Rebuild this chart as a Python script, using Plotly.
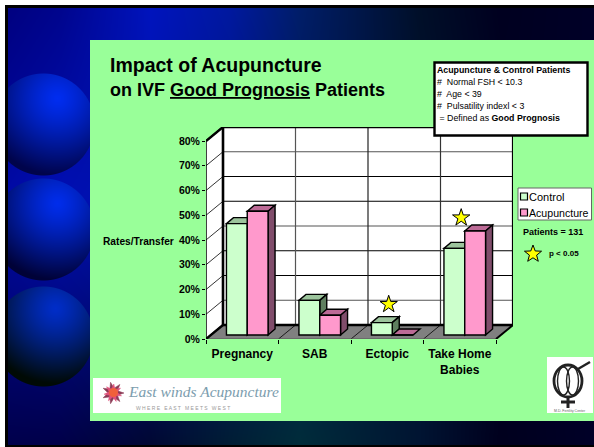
import base64, struct, zlib
import numpy as np
import plotly.graph_objects as go

# ---- data ----
categories = ["Pregnancy", "SAB", "Ectopic", "Take Home<br>Babies"]
control = [45, 14, 5, 35]
acupuncture = [50, 8, 0, 42]
star_x = [2.02, 3.02]
star_y = [14, 49]
y_ticks = [0, 10, 20, 30, 40, 50, 60, 70, 80]
y_labels = ["0%", "10%", "20%", "30%", "40%", "50%", "60%", "70%", "80%"]
info_lines = [
    "<b>Acupuncture & Control Patients</b>",
    "#  Normal FSH < 10.3",
    "#  Age < 39",
    "#  Pulsatility indexl < 3",
    " = Defined as <b>Good Prognosis</b>",
]

W, H = 594, 447
FONT = "Liberation Sans, Arial, sans-serif"
GREEN = "#99FF99"


def px(x):
    return x / W


def py(y):
    return 1 - y / H


# ---- slide background (decoration) ----
def make_background():
    xx, yy = np.meshgrid(np.arange(W), np.arange(H))
    xs = [0, 60, 150, 230, 300, 420, 500, 594]
    top = [(0, 0, 125), (0, 5, 140), (0, 20, 190), (0, 25, 160), (0, 30, 105), (0, 15, 40), (0, 0, 32), (0, 0, 40)]
    mid = [(0, 10, 165), (0, 15, 180), (0, 20, 170), (0, 20, 130), (0, 25, 90), (0, 20, 50), (0, 5, 35), (0, 0, 40)]
    bot = [(0, 0, 75), (0, 0, 72), (0, 8, 50), (0, 30, 52), (0, 45, 58), (0, 20, 50), (0, 0, 30), (0, 0, 40)]
    img = np.zeros((H, W, 3), float)
    for c in range(3):
        t = np.interp(xx, xs, [p[c] for p in top])
        m = np.interp(xx, xs, [p[c] for p in mid])
        b = np.interp(xx, xs, [p[c] for p in bot])
        k = yy / 200.0
        k2 = (yy - 200) / 247.0
        img[..., c] = np.where(yy < 200, t + (m - t) * k, m + (b - m) * k2)
    spheres = [
        (43, 124, 51, 57, 98, (0, 45, 240), (0, 4, 75)),
        (43, 229, 51, 57, 203, (0, 45, 235), (0, 2, 55)),
        (43, 336, 50, 55, 308, (0, 45, 200), (0, 10, 5)),
    ]
    for cx, cy, r, hx, hy, hi, lo in spheres:
        d = np.hypot(xx - cx, yy - cy)
        mask = np.clip(r + 0.5 - d, 0, 1)
        t = np.clip(np.hypot(xx - hx, yy - hy) / (1.5 * r), 0, 1) ** 1.25
        for c in range(3):
            col = hi[c] + (lo[c] - hi[c]) * t
            img[..., c] = img[..., c] * (1 - mask) + col * mask
    # slide frame
    img[:, :8] = 0
    img[:8, :] = 0
    img[445:, :] = 0
    img[:, :5] = 255
    img[:5, :] = 255
    arr = img.clip(0, 255).astype(np.uint8)
    raw = b"".join(b"\x00" + arr[i].tobytes() for i in range(H))

    def chunk(tag, data):
        c = struct.pack(">I", len(data)) + tag + data
        return c + struct.pack(">I", zlib.crc32(tag + data) & 0xFFFFFFFF)

    png = (b"\x89PNG\r\n\x1a\n" + chunk(b"IHDR", struct.pack(">IIBBBBB", W, H, 8, 2, 0, 0, 0))
           + chunk(b"IDAT", zlib.compress(raw, 9)) + chunk(b"IEND", b""))
    return "data:image/png;base64," + base64.b64encode(png).decode()


# ---- 3-D frame geometry in data units ----
CAT_PX = 72.5
VAL_PX = 2.475
DX = 17 / CAT_PX
DY = 14 / VAL_PX
BAR_W = 20.8 / CAT_PX
BAR_OFF = 5 / CAT_PX
BASE = 4 / VAL_PX
BDX = 7 / CAT_PX
BDY = 6 / VAL_PX
X0, X1 = -0.5, 3.5
TOP = 80

shapes = []


def poly(points, fill="rgba(0,0,0,0)", line="black", width=1.0, layer="below", ref=("x", "y")):
    path = "M" + "L".join(f"{a:.4f},{b:.4f}" for a, b in points) + "Z"
    shapes.append(dict(type="path", path=path, xref=ref[0], yref=ref[1], fillcolor=fill,
                       line=dict(color=line, width=width), layer=layer))


def seg(x0, y0, x1, y1, color="black", width=1.0):
    shapes.append(dict(type="line", x0=x0, y0=y0, x1=x1, y1=y1, xref="x", yref="y",
                       line=dict(color=color, width=width), layer="below"))


def rect_px(x0, y0, x1, y1, fill, line=None, width=0, layer="below"):
    shapes.append(dict(type="rect", xref="paper", yref="paper", x0=px(x0), x1=px(x1), y0=py(y1), y1=py(y0),
                       fillcolor=fill, line=dict(color=line or "rgba(0,0,0,0)", width=width), layer=layer))


def star_px(cx, cy, r, fill="#FFFF00"):
    pts = []
    for k in range(10):
        a = -np.pi / 2 + k * np.pi / 5
        rr = r if k % 2 == 0 else r * 0.42
        pts.append((px(cx + rr * np.cos(a)), py(cy + rr * np.sin(a))))
    poly(pts, fill=fill, width=1, layer="above", ref=("paper", "paper"))


# green panel
rect_px(90, 40, 594, 421, GREEN)

# walls and floor
poly([(X0, 0), (X0 + DX, DY), (X0 + DX, TOP + DY), (X0, TOP)], fill="white", width=1.5)
poly([(X0 + DX, DY), (X1 + DX, DY), (X1 + DX, TOP + DY), (X0 + DX, TOP + DY)], fill="white", width=0)
poly([(X0, 0), (X1, 0), (X1 + DX, DY), (X0 + DX, DY)], fill="#808080", width=0)

grid_colors = {10: "#555555", 20: "black", 30: "black", 40: "#555555", 50: "black", 60: "black", 70: "#555555"}
for v in y_ticks[1:-1]:
    seg(X0 + DX, v + DY, X1 + DX, v + DY, grid_colors[v], 1.2)
    seg(X0, v, X0 + DX, v + DY, "black", 0.8)
for k, col in zip([1, 2, 3], ["#555555", "#222222", "#333333"]):
    seg(X0 + k + DX, DY, X0 + k + DX, TOP + DY, col, 1.2)
    seg(X0 + k, 0, X0 + k + DX, DY, "black", 0.8)
seg(X0, 0, X1, 0, "#555555", 1.0)
seg(X0 + DX, DY, X1 + DX, DY, "black", 2.6)
seg(X0 + DX, DY, X0 + DX, TOP + DY, "black", 2.6)
seg(X0 + DX, TOP + DY, X1 + DX, TOP + DY, "black", 2.6)
seg(X1 + DX, DY, X1 + DX, TOP + DY, "black", 2.2)
seg(X1, 0, X1 + DX, DY, "black", 2.0)
seg(X0, 0, X0 + DX, DY, "black", 2.4)
seg(X0, TOP, X0 + DX, TOP + DY, "black", 2.4)

# depth faces of the bars, derived from the values
faces = [(control, -BAR_W / 2, "#9CC49C", "#5F7F5F"), (acupuncture, BAR_W / 2, "#BC6A96", "#804D6B")]
for i in range(len(categories)):
    for vals, shift, top_c, side_c in faces:
        left = i + BAR_OFF + shift - BAR_W / 2
        right = left + BAR_W
        t = BASE + vals[i]
        poly([(left, t), (right, t), (right + BDX, t + BDY), (left + BDX, t + BDY)], fill=top_c, width=1.4)
        if vals[i] > 0:
            poly([(right, BASE), (right + BDX, BASE + BDY), (right + BDX, t + BDY), (right, t)], fill=side_c, width=1.4)

xs_c = [i + BAR_OFF - BAR_W / 2 for i in range(len(categories))]
xs_a = [i + BAR_OFF + BAR_W / 2 for i in range(len(categories))]

fig = go.Figure()
fig.add_bar(name="Control", x=xs_c, y=control, base=BASE, width=BAR_W,
            marker=dict(color="#CCFFCC", line=dict(color="black", width=1.4)))
fig.add_bar(name="Acupuncture", x=xs_a, y=acupuncture, base=BASE, width=BAR_W,
            marker=dict(color="#FF99CC", line=dict(color="black", width=1.4)))
fig.add_scatter(x=star_x, y=star_y, mode="markers", name="p < 0.05", cliponaxis=False,
                marker=dict(symbol="star", size=13, color="#FFFF00", line=dict(color="black", width=1)))

ann = []


def text(x, y, s, size, color="black", xanchor="left", align="left", family=FONT):
    ann.append(dict(xref="paper", yref="paper", x=px(x), y=py(y), text=s, showarrow=False, xanchor=xanchor,
                    yanchor="middle", align=align, borderpad=0, font=dict(family=family, size=size, color=color)))


# title
text(109, 65, "<b>Impact of Acupuncture</b>", 19.5)
text(109, 90, "<b>on IVF <u>Good Prognosis</u> Patients</b>", 18)

# criteria box
rect_px(434.5, 62.5, 587.5, 135.5, "white", "black", 2.4, layer="above")
for y, line in zip([70, 82, 94, 106, 118], info_lines):
    text(435.5, y, line, 8.8)

# y-axis caption
text(102, 241, "<b>Rates/Transfer</b>", 10.2)

# legend
rect_px(518, 188, 591.5, 220, "white", "#666666", 1, layer="above")
rect_px(520.5, 193, 527.5, 200, "#CCFFCC", "black", 1.2, layer="above")
rect_px(520.5, 209, 527.5, 216, "#FF99CC", "black", 1.2, layer="above")
text(528, 197, "Control", 11)
text(528, 213, "Acupuncture", 10.6)
text(522, 232, "<b>Patients = 131</b>", 9)
star_px(533, 254, 9)
text(548, 253, "<b>p < 0.05</b>", 8)

# East Winds logo
rect_px(93, 378, 281, 413, "white")
for ang, r, col in [(0, 11, "#8A3A55"), (18, 9, "#E0507A")]:
    pts = []
    for k in range(14):
        a = np.deg2rad(ang) + k * np.pi / 7
        rr = r if k % 2 == 0 else r * 0.45
        pts.append((px(113 + rr * np.cos(a)), py(393 + rr * np.sin(a))))
    poly(pts, fill=col, line=col, width=0.5, layer="above", ref=("paper", "paper"))
shapes.append(dict(type="circle", xref="paper", yref="paper", x0=px(109), x1=px(118), y0=py(397), y1=py(388),
                   fillcolor="#F0603A", line=dict(width=0), layer="above"))
text(127, 391, "<i>East winds Acupuncture</i>", 15.5, color="#7C9DAE", family="Liberation Serif, serif")
text(135, 408, "W H E R E   E A S T   M E E T S   W E S T", 5, color="#999999")

# fertility logo
rect_px(547, 357, 593, 413, "white")
for cx, cy, rx, ry, w in [(568, 381, 14, 16, 2.8), (563.5, 381, 6, 14, 1.4), (572.5, 381, 6, 14, 1.4)]:
    shapes.append(dict(type="circle", xref="paper", yref="paper", x0=px(cx - rx), x1=px(cx + rx), y0=py(cy + ry),
                       y1=py(cy - ry), line=dict(color="#222222", width=w), layer="above"))
for x0, y0, x1, y1, w in [(578, 369, 590, 362, 2.4), (568, 397, 568, 408, 3), (561, 402, 575, 402, 3)]:
    shapes.append(dict(type="line", xref="paper", yref="paper", x0=px(x0), x1=px(x1), y0=py(y0), y1=py(y1),
                       line=dict(color="#222222", width=w), layer="above"))
text(570, 411, "M.D. Fertility Center", 3.5, color="#666666", xanchor="center", align="center")

fig.update_layout(
    width=W, height=H, autosize=False,
    margin=dict(l=0, r=0, t=0, b=0, pad=0, autoexpand=False),
    paper_bgcolor="white", plot_bgcolor="rgba(0,0,0,0)",
    showlegend=False, barmode="overlay",
    font=dict(family=FONT, color="black"),
    shapes=shapes, annotations=ann,
    images=[dict(source=make_background(), xref="paper", yref="paper", x=0, y=1, sizex=1, sizey=1,
                 xanchor="left", yanchor="top", sizing="stretch", layer="below")],
    xaxis=dict(domain=[px(206), px(513)], range=[X0, X1 + DX], showgrid=False, zeroline=False, showline=False,
               tickmode="array", tickvals=[0, 1, 2, 3], ticktext=[f"<b>{c}</b>" for c in categories],
               ticks="", ticklabelstandoff=6, tickfont=dict(size=12, family=FONT),
               minor=dict(tickmode="array", tickvals=[-0.5, 0.5, 1.5, 2.5, 3.5], ticks="outside", ticklen=4,
                          tickcolor="black", tickwidth=1, showgrid=False)),
    yaxis=dict(domain=[py(339), py(127)], range=[0, TOP + DY], showgrid=False, zeroline=False, showline=False,
               tickmode="array", tickvals=y_ticks, ticktext=[f"<b>{s}</b>" for s in y_labels],
               ticks="outside", ticklen=3, tickcolor="black", tickfont=dict(size=10.5, family=FONT)),
)

fig.write_html("out.html", config=dict(displayModeBar=False),
               post_script="document.body.style.margin='0';document.body.style.overflow='hidden';")
